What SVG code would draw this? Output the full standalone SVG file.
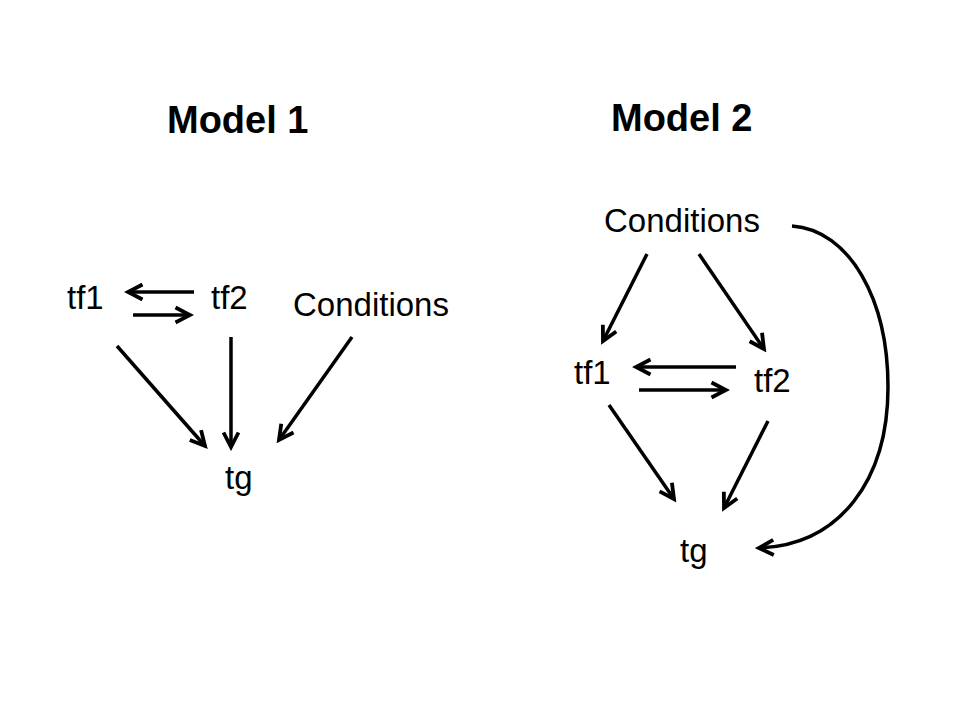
<svg xmlns="http://www.w3.org/2000/svg" width="960" height="720" viewBox="0 0 960 720">
<style>
.t{font-family:"Liberation Sans",Arial,sans-serif;font-size:33px;fill:#000}
.h{font-family:"Liberation Sans",Arial,sans-serif;font-size:38px;font-weight:bold;fill:#000}
.c{stroke:#000;stroke-width:3.5;fill:none;marker-end:url(#ah)}
</style>
<defs>
<marker id="ah" markerUnits="userSpaceOnUse" viewBox="-20 -12 24 24" refX="0" refY="0" markerWidth="24" markerHeight="24" orient="auto">
<path d="M-14.5,-7.5 L0,0 L-14.5,7.5" fill="none" stroke="#000" stroke-width="3.8" stroke-linejoin="miter"/>
</marker>
</defs>
<rect width="960" height="720" fill="#fff"/>
<g id="m1-title"><text class="h" x="167" y="133">Model 1</text></g>
<g id="m2-title"><text class="h" x="611" y="131">Model 2</text></g>
<g id="m1-tf1"><text class="t" x="67" y="309">tf1</text></g>
<g id="m1-tf2"><text class="t" x="211" y="309">tf2</text></g>
<g id="m1-cond"><text class="t" x="293" y="316">Conditions</text></g>
<g id="m1-tg"><text class="t" x="225" y="489">tg</text></g>
<g id="m2-cond"><text class="t" x="604" y="232">Conditions</text></g>
<g id="m2-tf1"><text class="t" x="574" y="384">tf1</text></g>
<g id="m2-tf2"><text class="t" x="754" y="392">tf2</text></g>
<g id="m2-tg"><text class="t" x="680" y="562">tg</text></g>
<g id="connectors">
<line class="c" x1="194" y1="292" x2="128" y2="292"/>
<line class="c" x1="133" y1="315" x2="190" y2="315"/>
<line class="c" x1="117" y1="346" x2="205" y2="446"/>
<line class="c" x1="231" y1="337" x2="231" y2="447"/>
<line class="c" x1="352" y1="337" x2="279" y2="440"/>
<line class="c" x1="647" y1="254" x2="603" y2="341"/>
<line class="c" x1="699" y1="254" x2="764" y2="349"/>
<line class="c" x1="736" y1="367" x2="636" y2="367"/>
<line class="c" x1="639" y1="390" x2="726" y2="390"/>
<line class="c" x1="609" y1="405" x2="674" y2="499"/>
<line class="c" x1="768" y1="421" x2="724" y2="508"/>
<path class="c" d="M792,226 C850,230 888,300 888,387 C888,480 840,545 759,548"/>
</g>
</svg>
